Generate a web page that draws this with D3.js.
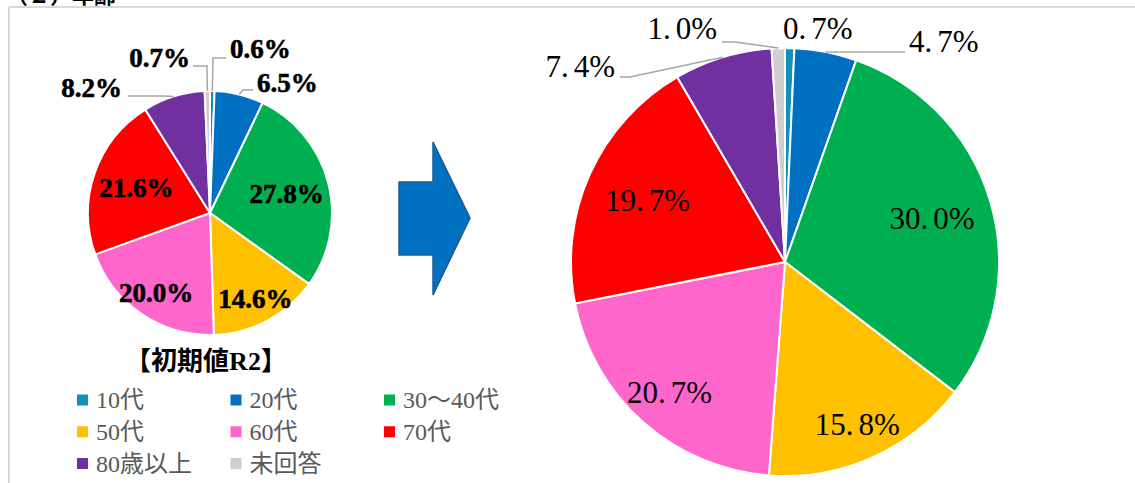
<!DOCTYPE html>
<html>
<head>
<meta charset="utf-8">
<script src="https://cdn.jsdelivr.net/npm/d3@7"></script>
<style>
  body { margin: 0; background: white; }
</style>
</head>
<body>
<div id="container"></div>
<script>
let w = 1135;
let h = 483;

// data
let categories = ["10代", "20代", "30～40代", "50代", "60代", "70代", "80歳以上", "未回答"];
let valuesR2 = [0.6, 6.5, 27.8, 14.6, 20.0, 21.6, 8.2, 0.7];
let valuesNow = [0.7, 4.7, 30.0, 15.8, 20.7, 19.7, 7.4, 1.0];
let colors = ["#1490B8", "#0070C0", "#00B050", "#FFC000", "#FF66CC", "#FF0000", "#7030A0", "#D0CECE"];

let colorScale = d3.scaleOrdinal().domain(categories).range(colors);

let viz = d3.select("#container")
  .append("svg")
    .attr("width", w)
    .attr("height", h)
    .style("background-color", "white")
;

// frame
viz.append("line").attr("x1", 9).attr("y1", 7).attr("x2", w).attr("y2", 7)
  .attr("stroke", "#d9d9d9").attr("stroke-width", 2);
viz.append("line").attr("x1", 9).attr("y1", 7).attr("x2", 9).attr("y2", h)
  .attr("stroke", "#d9d9d9").attr("stroke-width", 2);

// cut off heading (only its lower edge shows)
viz.append("text")
    .text("（２）年齢")
    .attr("x", 6)
    .attr("y", 3)
    .attr("font-family", "'Noto Sans CJK JP'")
    .attr("font-weight", "bold")
    .attr("font-size", 22)
    .attr("fill", "black")
;

let pie = d3.pie().sort(null).value(d => d.value);

// outside labels: text anchor + leader points, relative to pie center
let leftOutside = {
  "10代":   {tx: 20,  ty: -155, anchor: "start", pts: [[3, -155], [16, -155]]},
  "20代":   {tx: 47,  ty: -121, anchor: "start", pts: [[33, -123], [43, -123]]},
  "80歳以上": {tx: -88, ty: -116, anchor: "end", pts: [[-47, -117], [-82, -117]]},
  "未回答":  {tx: -20, ty: -146, anchor: "end", pts: [[-3, -147], [-17, -147]]}
};
let rightOutside = {
  "10代":   {tx: -2,   ty: -223, anchor: "start", pts: []},
  "20代":   {tx: 124,  ty: -210, anchor: "start", pts: [[120, -210]]},
  "80歳以上": {tx: -170, ty: -185, anchor: "end", pts: [[-155, -185], [-165, -185]]},
  "未回答":  {tx: -68,  ty: -223, anchor: "end", pts: [[-50, -220], [-63, -220]]}
};

function drawPie(values, cx, cy, r, outside, labelStyle, fa, fb){
  let data = categories.map((c, i) => ({cat: c, value: values[i]}));
  let arcs = pie(data);
  let arc = d3.arc().innerRadius(0).outerRadius(r);
  let edge = d3.arc().innerRadius(r).outerRadius(r);

  let g = viz.append("g").attr("transform", "translate(" + cx + "," + cy + ")");

  g.selectAll(".slice").data(arcs).enter()
    .append("path")
      .classed("slice", true)
      .attr("d", arc)
      .attr("fill", d => colorScale(d.data.cat))
      .attr("stroke", "white")
      .attr("stroke-width", 2)
  ;

  arcs.forEach(function(d){
    let txt = d.data.value.toFixed(1) + "%";
    let o = outside[d.data.cat];
    let label;
    if (o) {
      if (o.pts.length > 0) {
        let p0 = edge.centroid(d);
        let pts = [p0].concat(o.pts);
        g.append("path")
          .attr("d", d3.line()(pts))
          .attr("fill", "none")
          .attr("stroke", "#a6a6a6")
          .attr("stroke-width", 1.5);
      }
      label = g.append("text")
        .attr("x", o.tx)
        .attr("y", o.ty)
        .attr("text-anchor", o.anchor);
    } else {
      let mid = (d.startAngle + d.endAngle) / 2;
      let f = fa - fb * Math.cos(mid);
      label = g.append("text")
        .attr("x", Math.sin(mid) * r * f)
        .attr("y", -Math.cos(mid) * r * f)
        .attr("dy", "0.35em")
        .attr("text-anchor", "middle");
    }
    labelStyle(label, txt);
  });
}

function boldLabel(sel, txt){
  sel.text(txt)
    .attr("font-family", "'Liberation Serif'")
    .attr("font-weight", "bold")
    .attr("font-size", 27)
    .attr("fill", "black")
    .attr("stroke", "black")
    .attr("stroke-width", 0.6);
}

function minchoLabel(sel, txt){
  let parts = txt.split(".");
  sel.attr("font-family", "'Liberation Serif'")
    .attr("font-size", 31)
    .attr("fill", "black");
  sel.append("tspan").text(parts[0] + ".");
  sel.append("tspan").attr("dx", 5).text(parts[1]);
}

drawPie(valuesR2, 210, 213, 122, leftOutside, boldLabel, 0.68, 0.127);
drawPie(valuesNow, 785, 262, 214, rightOutside, minchoLabel, 0.743, 0.093);

// title under left pie
viz.append("text")
    .text("【初期値R2】")
    .attr("x", 206)
    .attr("y", 370)
    .attr("text-anchor", "middle")
    .attr("font-family", "'Liberation Serif', 'Noto Sans CJK JP'")
    .attr("font-weight", "bold")
    .attr("font-size", 26)
    .attr("fill", "black")
;

// arrow
viz.append("path")
    .attr("d", "M399,182 L433,182 L433,142 L470,218 L433,295 L433,255 L399,255 Z")
    .attr("fill", "#0070C0")
    .attr("stroke", "#1F5A93")
    .attr("stroke-width", 1.5)
;

// legend
let legendX = d3.scaleLinear().domain([0, 2]).range([77, 384]);
let legendY = d3.scaleLinear().domain([0, 2]).range([400, 463.5]);

let items = viz.selectAll(".legenditem").data(categories).enter()
  .append("g")
    .classed("legenditem", true)
    .attr("transform", (d, i) => "translate(" + legendX(i % 3) + "," + legendY(Math.floor(i / 3)) + ")")
;
items.append("rect")
    .attr("x", 0)
    .attr("y", -5.5)
    .attr("width", 11)
    .attr("height", 11)
    .attr("fill", d => colorScale(d))
;
items.append("text")
    .text(d => d)
    .attr("x", 19)
    .attr("y", 0)
    .attr("dy", "0.35em")
    .attr("font-family", "'Liberation Serif', 'Noto Sans CJK JP'")
    .attr("font-size", 24)
    .attr("fill", "#595959")
;
</script>
</body>
</html>
